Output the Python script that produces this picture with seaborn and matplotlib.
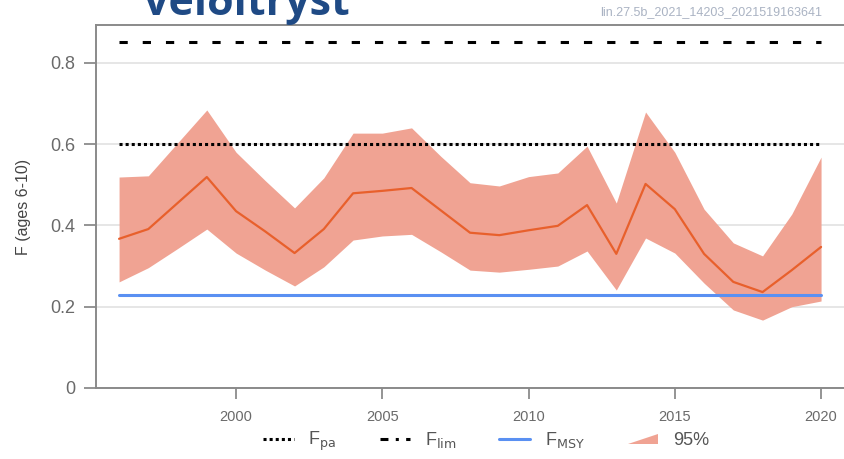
import matplotlib
matplotlib.use("Agg")
import matplotlib.pyplot as plt
import matplotlib.patches as mpatches
from matplotlib.lines import Line2D
from matplotlib.legend_handler import HandlerPatch
import pandas as pd
import seaborn as sns

# Data
years = list(range(1996, 2021))
f_est = [0.367, 0.391, 0.455, 0.519, 0.435, 0.385, 0.332, 0.391, 0.479, 0.485,
         0.492, 0.437, 0.382, 0.376, 0.388, 0.399, 0.450, 0.330, 0.502, 0.440,
         0.330, 0.261, 0.236, 0.290, 0.347]
f_high = [0.519, 0.522, 0.603, 0.684, 0.580, 0.510, 0.443, 0.517, 0.627, 0.627,
          0.640, 0.570, 0.505, 0.497, 0.520, 0.529, 0.595, 0.455, 0.679, 0.580,
          0.440, 0.357, 0.325, 0.428, 0.568]
f_low = [0.261, 0.296, 0.343, 0.391, 0.332, 0.290, 0.251, 0.298, 0.364, 0.374,
         0.378, 0.335, 0.290, 0.285, 0.292, 0.300, 0.337, 0.241, 0.369, 0.332,
         0.258, 0.192, 0.167, 0.200, 0.214]
f_pa = 0.60
f_lim = 0.85
f_msy = 0.23

df = pd.DataFrame({"year": years, "F": f_est, "low": f_low, "high": f_high})

sns.set_theme(style="white")
plt.rcParams["font.family"] = ["Liberation Sans", "DejaVu Sans"]

fig = plt.figure(figsize=(8.44, 4.59), dpi=100)
ax = fig.add_axes([0.1137, 0.1547, 0.891, 0.7908])

fill_col = "#f0a393"
line_col = "#e8602c"
msy_col = "#5a90f2"

ax.fill_between(df["year"], df["low"], df["high"], color=fill_col, lw=0, zorder=2)
sns.lineplot(data=df, x="year", y="F", color=line_col, lw=1.6, ax=ax, zorder=3)

x0, x1 = years[0], years[-1]
ax.plot([x0, x1], [f_pa, f_pa], color="black", lw=2.2, linestyle=(0, (1, 1)), zorder=4)
ax.plot([x0, x1], [f_lim, f_lim], color="black", lw=2.2, linestyle=(0, (2.7, 4.9)),
        zorder=4, dash_capstyle="butt")
ax.plot([x0, x1], [f_msy, f_msy], color=msy_col, lw=2.2, zorder=4)

ax.set_xlim(1995.21, 2020.92)
ax.set_ylim(0, 0.893)
ax.set_yticks([0, 0.2, 0.4, 0.6, 0.8])
ax.set_yticklabels(["0", "0.2", "0.4", "0.6", "0.8"])
ax.set_xticks([2000, 2005, 2010, 2015, 2020])
ax.grid(axis="y", color="#e2e2e2", lw=1.2)
ax.grid(axis="x", visible=False)
ax.set_axisbelow(True)

for side in ["left", "bottom", "top", "right"]:
    ax.spines[side].set_color("#8a8a8a")
    ax.spines[side].set_linewidth(1.4)

ax.tick_params(axis="y", which="both", left=True, length=9, width=1.1, color="#777777",
               labelsize=13, labelcolor="#6a6a6a", pad=6)
ax.tick_params(axis="x", which="both", bottom=True, length=8, width=1.1, color="#777777",
               labelsize=10.5, labelcolor="#6a6a6a", pad=8)
ax.set_xlabel("")
ax.set_ylabel("F (ages 6-10)", fontsize=11.5, color="#444444", labelpad=14)


class HandlerTriangle(HandlerPatch):
    def create_artists(self, legend, orig_handle, xdescent, ydescent, width, height,
                       fontsize, trans):
        p = mpatches.Polygon([[-xdescent, -ydescent + height * 0.1],
                              [-xdescent + width, -ydescent + height * 0.1],
                              [-xdescent + width, -ydescent + height * 0.9]],
                             closed=True, facecolor=orig_handle.get_facecolor(), lw=0)
        p.set_transform(trans)
        return [p]


handles = [
    Line2D([], [], color="black", lw=2.2, linestyle=(0, (1, 1))),
    Line2D([], [], color="black", lw=2.2, linestyle=(0, (2.6, 2.4, 1, 2.4))),
    Line2D([], [], color=msy_col, lw=2.2),
    mpatches.Patch(color=fill_col),
]
labels = [r"F$_{\mathrm{pa}}$", r"F$_{\mathrm{lim}}$", r"F$_{\mathrm{MSY}}$", "95%"]
fig.legend(handles, labels, loc="center", bbox_to_anchor=(0.576, 0.038), ncol=4,
           frameon=False, fontsize=13, labelcolor="#555555", handlelength=1.7,
           handletextpad=0.8, columnspacing=2.4,
           handler_map={mpatches.Patch: HandlerTriangle()})

fig.text(0.171, 0.968, "veiðitrýst", fontsize=31, fontweight="bold", color="#1f4a85",
         family=["Open Sans", "DejaVu Sans"], va="baseline", ha="left")
fig.text(0.974, 0.968, "lin.27.5b_2021_14203_2021519163641", fontsize=9,
         color="#aab3c3", ha="right", va="baseline")

fig.savefig("out.png", dpi=100)
